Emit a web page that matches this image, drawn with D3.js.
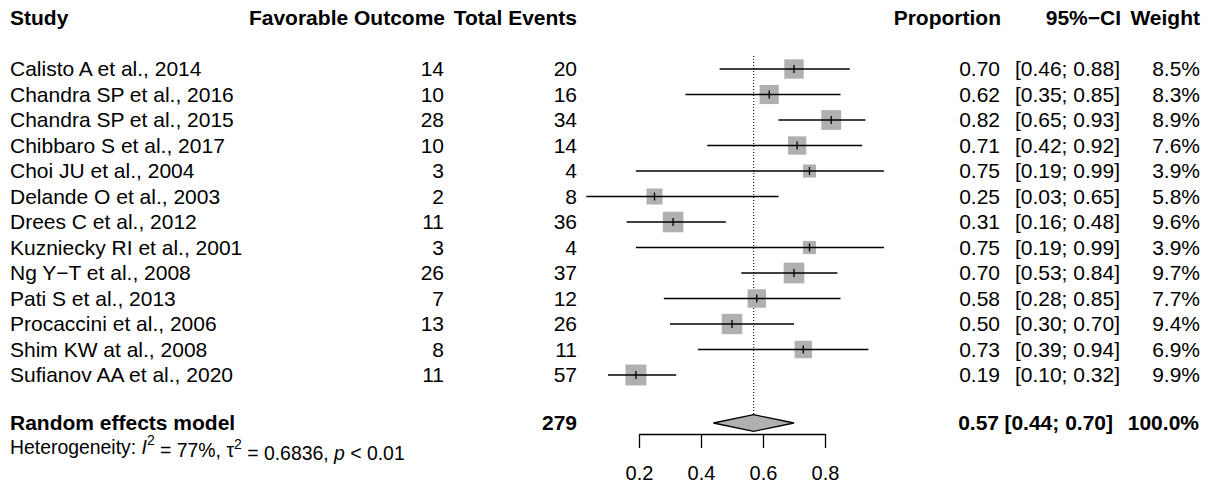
<!DOCTYPE html>
<html>
<head>
<meta charset="utf-8">
<script src="https://cdn.jsdelivr.net/npm/d3@7"></script>
<style>
  body { margin: 0; background: #fff; }
  svg text { font-family: "Liberation Sans", Arial, sans-serif; fill: #000; }
</style>
</head>
<body>
<div id="chart"></div>
<script>
// study level data
const studies = [
  'Calisto A et al., 2014', 'Chandra SP et al., 2016', 'Chandra SP et al., 2015',
  'Chibbaro S et al., 2017', 'Choi JU et al., 2004', 'Delande O et al., 2003',
  'Drees C et al., 2012', 'Kuzniecky RI et al., 2001', 'Ng Y\u2212T et al., 2008',
  'Pati S et al., 2013', 'Procaccini et al., 2006', 'Shim KW at al., 2008',
  'Sufianov AA et al., 2020'
];
const favorable = [14, 10, 28, 10, 3, 2, 11, 3, 26, 7, 13, 8, 11];
const totals = [20, 16, 34, 14, 4, 8, 36, 4, 37, 12, 26, 11, 57];
const proportion = [0.70, 0.62, 0.82, 0.71, 0.75, 0.25, 0.31, 0.75, 0.70, 0.58, 0.50, 0.73, 0.19];
const lower = [0.46, 0.35, 0.65, 0.42, 0.19, 0.03, 0.16, 0.19, 0.53, 0.28, 0.30, 0.39, 0.10];
const upper = [0.88, 0.85, 0.93, 0.92, 0.99, 0.65, 0.48, 0.99, 0.84, 0.85, 0.70, 0.94, 0.32];
const weight = [8.5, 8.3, 8.9, 7.6, 3.9, 5.8, 9.6, 3.9, 9.7, 7.7, 9.4, 6.9, 9.9];

// pooled estimate
const pooled = { est: 0.57, lo: 0.44, hi: 0.70, total: 279, weight: 100.0 };
const tickVals = [0.2, 0.4, 0.6, 0.8];

const width = 1212, height = 486;
const fontSize = 21;

const data = studies.map((s, i) => ({
  study: s, ev: favorable[i], n: totals[i], p: proportion[i],
  lo: lower[i], hi: upper[i], w: weight[i]
}));

const svg = d3.select('#chart')
  .append('svg')
  .attr('width', width)
  .attr('height', height);

const x = d3.scaleLinear().domain([0, 1]).range([577, 887]);
const y = d3.scalePoint().domain(studies).range([69, 375]);
const side = d3.scaleSqrt().domain([0, 10]).range([0, 21]);

const fmt2 = d3.format('.2f');
const fmtW = d3.format('.1f');

// column positions (right edges, except study)
const col = { study: 10, ev: 445, n: 577, prop: 1001, ci: 1121, w: 1200 };
const yHead = 18, yPooled = 423;

// header
const head = svg.append('g').attr('font-weight', 'bold').attr('font-size', fontSize);
[['Study', col.study, 'start'], ['Favorable Outcome', col.ev, 'end'], ['Total Events', col.n, 'end'],
 ['Proportion', col.prop, 'end'], ['95%\u2212CI', col.ci, 'end'], ['Weight', col.w, 'end']]
  .forEach(h => {
    head.append('text').attr('x', h[1]).attr('y', yHead).attr('dy', '0.35em')
      .attr('text-anchor', h[2]).text(h[0]);
  });

// reference line at pooled estimate
svg.append('line')
  .attr('x1', x(pooled.est)).attr('x2', x(pooled.est))
  .attr('y1', 56).attr('y2', yPooled - 8)
  .attr('stroke', '#000').attr('stroke-width', 1)
  .attr('stroke-dasharray', '1 2');

// table rows
const rows = svg.append('g').attr('font-size', fontSize)
  .selectAll('g').data(data).enter().append('g')
  .attr('transform', d => `translate(0,${y(d.study)})`);

rows.append('text').attr('x', col.study).attr('dy', '0.35em').text(d => d.study);
rows.append('text').attr('x', col.ev - 1).attr('dy', '0.35em').attr('text-anchor', 'end').text(d => d.ev);
rows.append('text').attr('x', col.n).attr('dy', '0.35em').attr('text-anchor', 'end').text(d => d.n);
rows.append('text').attr('x', col.prop - 1).attr('dy', '0.35em').attr('text-anchor', 'end').text(d => fmt2(d.p));
rows.append('text').attr('x', col.ci - 1).attr('dy', '0.35em').attr('text-anchor', 'end')
  .text(d => `[${fmt2(d.lo)}; ${fmt2(d.hi)}]`);
rows.append('text').attr('x', col.w).attr('dy', '0.35em').attr('text-anchor', 'end').text(d => fmtW(d.w) + '%');

// squares, CI lines, estimate ticks
rows.append('rect')
  .attr('x', d => x(d.p) - side(d.w) / 2)
  .attr('y', d => -side(d.w) / 2)
  .attr('width', d => side(d.w))
  .attr('height', d => side(d.w))
  .attr('fill', '#b0b0b0');

rows.append('line')
  .attr('x1', d => x(d.lo)).attr('x2', d => x(d.hi))
  .attr('stroke', '#000').attr('stroke-width', 1.3);

rows.append('line')
  .attr('x1', d => x(d.p)).attr('x2', d => x(d.p))
  .attr('y1', -4).attr('y2', 4)
  .attr('stroke', '#000').attr('stroke-width', 1.3);

// pooled row
const pg = svg.append('g').attr('font-size', fontSize).attr('font-weight', 'bold');
pg.append('text').attr('x', col.study).attr('y', yPooled).attr('dy', '0.35em').text('Random effects model');
pg.append('text').attr('x', col.n).attr('y', yPooled).attr('dy', '0.35em').attr('text-anchor', 'end').text(pooled.total);
pg.append('text').attr('x', col.prop - 2).attr('y', yPooled).attr('dy', '0.35em').attr('text-anchor', 'end').text(fmt2(pooled.est));
pg.append('text').attr('x', col.ci - 8).attr('y', yPooled).attr('dy', '0.35em').attr('text-anchor', 'end')
  .text(`[${fmt2(pooled.lo)}; ${fmt2(pooled.hi)}]`);
pg.append('text').attr('x', col.w - 1).attr('y', yPooled).attr('dy', '0.35em').attr('text-anchor', 'end')
  .text(fmtW(pooled.weight) + '%');

const dh = 8.3;
svg.append('path')
  .attr('d', `M${x(pooled.lo)},${yPooled} L${x(pooled.est)},${yPooled - dh} L${x(pooled.hi)},${yPooled} L${x(pooled.est)},${yPooled + dh} Z`)
  .attr('fill', '#b0b0b0').attr('stroke', '#000').attr('stroke-width', 1.3);

// heterogeneity line
const het = svg.append('text').attr('x', col.study).attr('y', 447).attr('dy', '0.35em').attr('font-size', 19.4);
het.append('tspan').text('Heterogeneity: ');
het.append('tspan').attr('font-style', 'italic').text('I');
het.append('tspan').attr('font-size', 14).attr('dy', '-0.6em').text('2');
het.append('tspan').attr('dy', '0.6em').text(' = 77%, \u03c4');
het.append('tspan').attr('font-size', 14).attr('dy', '-0.6em').text('2');
het.append('tspan').attr('dy', '0.6em').text(' = 0.6836, ');
het.append('tspan').attr('font-style', 'italic').text('p');
het.append('tspan').text(' < 0.01');

// x axis
const xAxisScale = x.copy().domain([0.2, 0.8]).range([x(0.2), x(0.8)]);
const axis = svg.append('g')
  .attr('transform', 'translate(0,434)')
  .call(d3.axisBottom(xAxisScale).tickValues(tickVals).tickSize(14).tickSizeOuter(0)
    .tickPadding(18).tickFormat(d3.format('.1f')));
axis.selectAll('path, line').attr('stroke', '#000').attr('stroke-width', 1.3);
axis.selectAll('text').attr('font-size', 20)
  .attr('font-family', '"Liberation Sans", Arial, sans-serif').attr('fill', '#000');
</script>
</body>
</html>
